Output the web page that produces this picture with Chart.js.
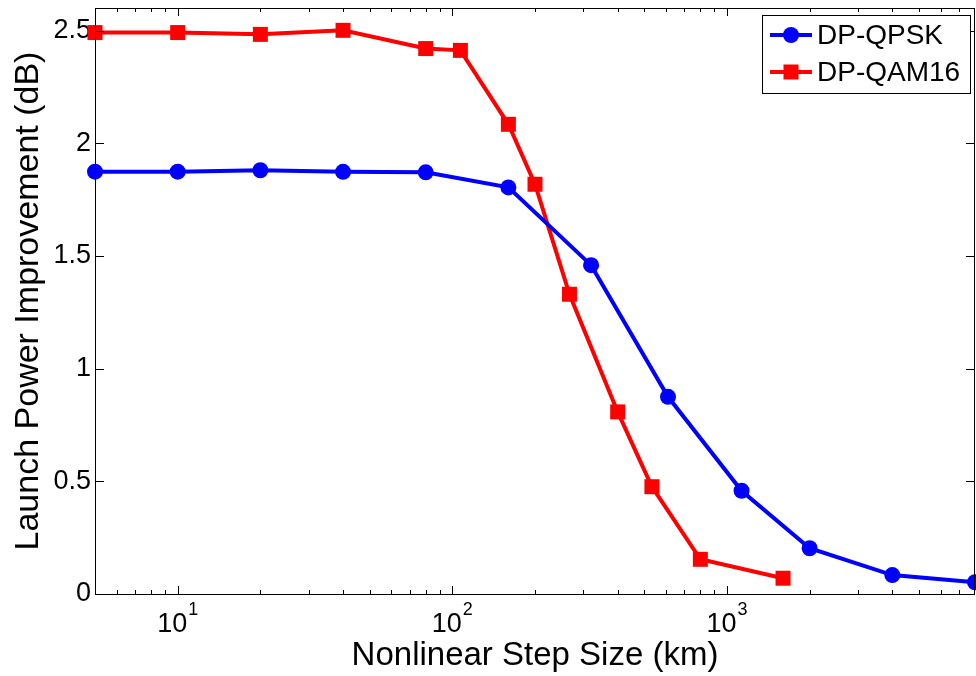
<!DOCTYPE html>
<html><head><meta charset="utf-8">
<script src="https://cdn.jsdelivr.net/npm/chart.js@4.4.1/dist/chart.umd.min.js"></script>
<style>html,body{margin:0;padding:0;background:#fff;}canvas{display:block;}</style>
</head><body>
<canvas id="c" width="976" height="676"></canvas>
<script>
// ---- data ----
const seriesNames = ['DP-QPSK', 'DP-QAM16'];
const qpskStep = [5, 10, 20, 40, 80, 160, 320, 610, 1130, 2000, 4000, 8000];
const qpskGain = [1.874, 1.874, 1.880, 1.873, 1.871, 1.804, 1.459, 0.875, 0.458, 0.203, 0.084, 0.052];
const qam16Step = [5, 10, 20, 40, 80, 107, 160, 200, 267, 400, 533, 800, 1600];
const qam16Gain = [2.491, 2.491, 2.483, 2.501, 2.420, 2.412, 2.084, 1.818, 1.330, 0.808, 0.476, 0.154, 0.070];
const yTickValues = [0, 0.5, 1, 1.5, 2, 2.5];
const yTickLabels = ['0', '0.5', '1', '1.5', '2', '2.5'];
const xMajorTicks = [10, 100, 1000];
const xTickBase = '10';
const xTickExponents = ['1', '2', '3'];
const xMinorTicks = [6, 7, 8, 9, 20, 30, 40, 50, 60, 70, 80, 90, 200, 300, 400, 500, 600, 700, 800, 900, 2000, 3000, 4000, 5000, 6000, 7000];
const xTitle = 'Nonlinear Step Size (km)';
const yTitle = 'Launch Power Improvement (dB)';

const FONT = "'Liberation Sans', Arial, Helvetica, sans-serif";
Chart.defaults.font.family = FONT;
Chart.defaults.color = '#000';

const toPts = (xs, ys) => xs.map((x, i) => ({x: x, y: ys[i]}));

const decor = {
  id: 'decor',
  afterDraw(chart) {
    const ctx = chart.ctx;
    const a = chart.chartArea;
    const xs = chart.scales.x, ys = chart.scales.y;
    ctx.save();
    ctx.strokeStyle = '#000';
    ctx.lineWidth = 1;
    // box
    ctx.strokeRect(Math.round(a.left) + 0.5, Math.round(a.top) + 0.5, Math.round(a.right - a.left) - 1, Math.round(a.bottom - a.top));
    // y ticks (inward, both sides)
    ctx.beginPath();
    yTickValues.forEach(v => {
      const py = Math.round(ys.getPixelForValue(v)) + 0.5;
      ctx.moveTo(a.left, py); ctx.lineTo(a.left + 9, py);
      ctx.moveTo(a.right, py); ctx.lineTo(a.right - 9, py);
    });
    // x major ticks
    xMajorTicks.forEach(v => {
      const px = Math.round(xs.getPixelForValue(v)) + 0.5;
      ctx.moveTo(px, a.bottom); ctx.lineTo(px, a.bottom - 8);
      ctx.moveTo(px, a.top); ctx.lineTo(px, a.top + 8);
    });
    xMinorTicks.forEach(v => {
      const px = Math.round(xs.getPixelForValue(v)) + 0.5;
      ctx.moveTo(px, a.bottom); ctx.lineTo(px, a.bottom - 4);
      ctx.moveTo(px, a.top); ctx.lineTo(px, a.top + 4);
    });
    ctx.stroke();
    // x tick labels 10^n
    ctx.fillStyle = '#000';
    ctx.textBaseline = 'alphabetic';
    ctx.textAlign = 'left';
    xMajorTicks.forEach((v, i) => {
      const px = xs.getPixelForValue(v);
      ctx.font = '27px ' + FONT;
      const wb = ctx.measureText(xTickBase).width;
      ctx.font = '18px ' + FONT;
      const we = ctx.measureText(xTickExponents[i]).width;
      const x0 = px - (wb + 1 + we) / 2;
      ctx.font = '27px ' + FONT;
      ctx.fillText(xTickBase, x0, 632);
      ctx.font = '18px ' + FONT;
      ctx.fillText(xTickExponents[i], x0 + wb + 1, 615);
    });
    // legend
    const L = {left: 762, top: 15, right: 970, bottom: 93};
    ctx.fillStyle = '#fff';
    ctx.fillRect(L.left, L.top, L.right - L.left, L.bottom - L.top);
    ctx.strokeStyle = '#000';
    ctx.lineWidth = 1;
    ctx.strokeRect(L.left + 0.5, L.top + 0.5, L.right - L.left, L.bottom - L.top);
    const rows = [35, 72];
    chart.data.datasets.forEach((ds, i) => {
      const y = rows[i];
      ctx.strokeStyle = ds.borderColor;
      ctx.lineWidth = ds.borderWidth;
      ctx.beginPath(); ctx.moveTo(770, y); ctx.lineTo(812, y); ctx.stroke();
      ctx.fillStyle = ds.borderColor;
      if (ds.pointStyle === 'rect') {
        ctx.fillRect(791 - 7.5, y - 7.5, 15, 15);
      } else {
        ctx.beginPath(); ctx.arc(791, y, 8, 0, Math.PI * 2); ctx.fill();
      }
      ctx.fillStyle = '#000';
      ctx.font = '28px ' + FONT;
      ctx.textBaseline = 'middle';
      ctx.fillText(ds.label, 817, y + 1);
    });
    ctx.restore();
  }
};

new Chart(document.getElementById('c'), {
  type: 'line',
  data: {
    datasets: [
      {
        label: seriesNames[0], data: toPts(qpskStep, qpskGain),
        borderColor: '#0000ff', backgroundColor: '#0000ff', borderWidth: 4,
        pointStyle: 'circle', pointRadius: 8, pointBorderWidth: 0,
        pointBackgroundColor: '#0000ff', tension: 0, clip: false
      },
      {
        label: seriesNames[1], data: toPts(qam16Step, qam16Gain),
        borderColor: '#ff0000', backgroundColor: '#ff0000', borderWidth: 4,
        pointStyle: 'rect', pointRadius: 10.6, pointBorderWidth: 0,
        pointBackgroundColor: '#ff0000', tension: 0, clip: false
      }
    ]
  },
  options: {
    responsive: false,
    animation: false,
    devicePixelRatio: 1,
    layout: {autoPadding: false, padding: {top: 8, right: 1, bottom: 0, left: 0}},
    plugins: {legend: {display: false}, tooltip: {enabled: false}},
    scales: {
      x: {
        type: 'logarithmic', min: 5, max: 8000,
        grid: {display: false, drawTicks: false},
        border: {display: false},
        ticks: {display: false},
        afterBuildTicks: s => { s.ticks = xMajorTicks.map(v => ({value: v})); },
        afterFit: s => { s.height = 82; s.paddingLeft = 0; s.paddingRight = 0; },
        title: {display: true, text: xTitle, font: {size: 33}, color: '#000', padding: {top: 0, bottom: 0}}
      },
      y: {
        type: 'linear', min: 0, max: 2.6,
        grid: {display: false, drawTicks: false},
        border: {display: false},
        ticks: {
          font: {size: 27}, color: '#000', padding: 4,
          callback: (v) => { const i = yTickValues.indexOf(v); return i >= 0 ? yTickLabels[i] : ''; }
        },
        afterBuildTicks: s => { s.ticks = yTickValues.map(v => ({value: v})); },
        afterFit: s => { s.width = 95; s.paddingTop = 0; s.paddingBottom = 0; },
        title: {display: true, text: yTitle, font: {size: 34}, color: '#000', padding: {top: 8, bottom: 0}}
      }
    }
  },
  plugins: [decor]
});
</script>
</body></html>
